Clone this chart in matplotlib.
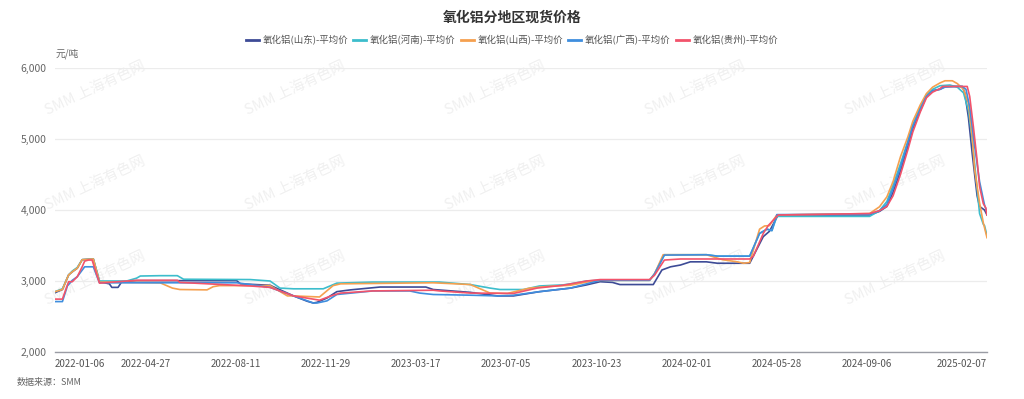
import matplotlib
matplotlib.use("Agg")
import matplotlib.pyplot as plt
from matplotlib.ticker import FuncFormatter, FixedLocator

plt.rcParams['font.family'] = ['Noto Sans CJK SC', 'DejaVu Sans']

title = "氧化铝分地区现货价格"
unit = "元/吨"
source = "数据来源：SMM"

tick_idx = [0, 73, 146, 219, 292, 365, 438, 511, 584, 657, 754]
tick_labels = ["2022-01-06", "2022-04-27", "2022-08-11", "2022-11-29", "2023-03-17",
               "2023-07-05", "2023-10-23", "2024-02-01", "2024-05-28", "2024-09-06", "2025-02-07"]

names = ["氧化铝(山东)-平均价", "氧化铝(河南)-平均价", "氧化铝(山西)-平均价",
         "氧化铝(广西)-平均价", "氧化铝(贵州)-平均价"]
colors = ["#3d4b96", "#3cbdcc", "#f5a04f", "#3f8ede", "#f2536b"]

# (trading-day index, price)
shandong = [(0,2835),(6,2880),(11,3085),(14,3130),(18,3180),(22,3300),(31,3310),(36,2990),(44,2960),(46,2910),(51,2910),(54,2990),(66,3005),(147,3005),(150,2960),(174,2940),(193,2790),(204,2715),(209,2690),(212,2700),(220,2760),(228,2850),(239,2875),(263,2915),(300,2915),(306,2880),(336,2840),(358,2790),(371,2790),(392,2850),(417,2900),(430,2945),(441,2990),(451,2980),(457,2950),(484,2950),(491,3155),(498,3200),(506,3225),(514,3270),(527,3270),(536,3250),(562,3250),(573,3625),(578,3700),(585,3930),(659,3930),(667,3980),(673,4050),(678,4250),(684,4550),(690,4900),(694,5150),(700,5400),(705,5600),(710,5680),(716,5700),(720,5740),(734,5740),(736,5650),(739,5300),(742,4800),(746,4200),(748,4050),(752,4000),(754,3930)]
henan = [(0,2850),(6,2890),(11,3085),(14,3140),(18,3190),(22,3300),(31,3310),(36,3000),(58,3000),(66,3040),(69,3070),(85,3075),(99,3075),(104,3025),(158,3020),(170,3005),(174,3000),(182,2900),(193,2890),(217,2890),(228,2970),(257,2985),(311,2985),(336,2950),(352,2900),(360,2880),(379,2880),(392,2930),(411,2945),(417,2960),(430,3000),(441,3010),(481,3010),(485,3100),(493,3370),(527,3370),(536,3350),(562,3350),(570,3670),(576,3730),(580,3710),(584,3910),(659,3910),(667,3990),(673,4120),(678,4350),(684,4650),(690,4970),(694,5200),(700,5450),(705,5620),(710,5700),(716,5750),(724,5760),(730,5730),(735,5650),(739,5400),(742,5000),(746,4300),(748,3950),(751,3800),(752,3780),(754,3640)]
shanxi = [(0,2850),(6,2880),(11,3085),(14,3130),(18,3180),(22,3300),(31,3310),(36,2985),(85,2975),(95,2900),(101,2880),(123,2875),(128,2920),(133,2935),(174,2935),(188,2790),(193,2790),(214,2775),(225,2935),(231,2960),(306,2975),(336,2950),(352,2830),(366,2825),(384,2900),(400,2925),(417,2940),(430,2985),(441,3010),(481,3010),(485,3100),(492,3370),(527,3370),(540,3300),(552,3270),(557,3250),(562,3260),(570,3730),(574,3775),(578,3780),(584,3930),(659,3950),(667,4045),(673,4185),(678,4400),(684,4750),(690,5030),(694,5250),(700,5480),(705,5640),(710,5730),(716,5790),(720,5820),(726,5820),(730,5780),(735,5700),(739,5500),(742,5040),(744,4570),(748,4100),(751,3820),(754,3610)]
guangxi = [(0,2710),(6,2710),(10,2930),(14,3010),(18,3060),(24,3200),(31,3200),(36,2975),(147,2975),(158,2950),(174,2910),(193,2790),(209,2690),(212,2690),(220,2720),(228,2810),(257,2860),(287,2860),(295,2830),(306,2810),(336,2800),(358,2790),(371,2800),(392,2850),(417,2900),(430,2960),(441,3010),(481,3010),(485,3100),(493,3365),(527,3370),(536,3350),(562,3350),(570,3670),(576,3730),(580,3710),(584,3935),(659,3940),(667,3990),(673,4080),(678,4300),(684,4600),(690,4950),(694,5180),(700,5420),(705,5600),(710,5680),(716,5700),(720,5730),(728,5740),(734,5740),(737,5700),(740,5450),(744,4900),(748,4400),(751,4150),(752,4070),(754,3970)]
guizhou = [(0,2745),(6,2745),(11,2990),(14,2990),(18,3060),(22,3200),(24,3280),(27,3295),(30,3295),(36,2970),(66,3010),(99,3010),(101,2980),(158,2930),(174,2910),(193,2790),(214,2730),(225,2800),(231,2830),(257,2860),(306,2870),(311,2860),(336,2830),(371,2825),(390,2900),(411,2940),(430,3000),(441,3020),(481,3020),(485,3080),(493,3295),(506,3310),(562,3310),(565,3350),(573,3670),(577,3780),(585,3930),(659,3950),(667,3990),(673,4050),(678,4200),(684,4500),(690,4850),(694,5100),(700,5380),(705,5580),(710,5660),(716,5710),(718,5740),(738,5740),(740,5600),(743,5170),(746,4700),(748,4330),(751,4090),(753,4030),(754,3930)]
series = [shandong, henan, shanxi, guangxi, guizhou]

fig = plt.figure(figsize=(10.24, 3.99), dpi=100)
ax = fig.add_axes([55/1024, 1-352/399, 932/1024, 284/399])
ax.set_zorder(2)
ax.patch.set_alpha(0)

# watermarks
for wy in [88, 183, 278]:
    for wx in [95, 295, 495, 695, 895]:
        fig.text(wx/1024, 1-wy/399, "SMM 上海有色网", fontsize=10.5, color="#f0f0f0",
                 rotation=25, ha="center", va="center", zorder=0)

for s, c, n in zip(series, colors, names):
    xs = [p[0] for p in s]
    ys = [p[1] for p in s]
    ax.plot(xs, ys, color=c, lw=1.2, label=n, solid_joinstyle="round")

ax.set_xlim(0, 754)
ax.set_ylim(2000, 6000)
ax.yaxis.set_major_locator(FixedLocator([2000, 3000, 4000, 5000, 6000]))
ax.yaxis.set_major_formatter(FuncFormatter(lambda v, p: f"{int(v):,}"))
ax.grid(axis="y", color="#ececec", lw=0.9)
ax.set_axisbelow(True)
for sp in ["top", "right", "left"]:
    ax.spines[sp].set_visible(False)
ax.spines["bottom"].set_color("#9a9ca4")
ax.spines["bottom"].set_linewidth(1.0)
ax.tick_params(axis="y", length=0, labelsize=7.5, labelcolor="#666666", pad=6)
ax.tick_params(axis="x", length=0, labelsize=7, labelcolor="#555555", pad=5)
ax.set_xticks(tick_idx)
ax.set_xticklabels(tick_labels)
xl = ax.get_xticklabels()
xl[0].set_ha("left")
xl[-1].set_ha("right")

fig.text(56/1024, 1-54/399, unit, fontsize=7, color="#666666", ha="left", va="center")
fig.text(0.5, 1-18/399, title, fontsize=10, fontweight="bold", color="#333333",
         ha="center", va="center")
fig.text(17/1024, 1-382/399, source, fontsize=6.5, color="#666666", ha="left", va="center")

leg = fig.legend(loc="center", bbox_to_anchor=(0.5, 1-40/399), ncol=5, frameon=False,
                 fontsize=6.8, handlelength=1.4, handletextpad=0.4, columnspacing=0.5,
                 labelcolor="#555555")
for h in leg.legend_handles:
    h.set_linewidth(2)

fig.savefig("out.png", dpi=100, facecolor="white")
